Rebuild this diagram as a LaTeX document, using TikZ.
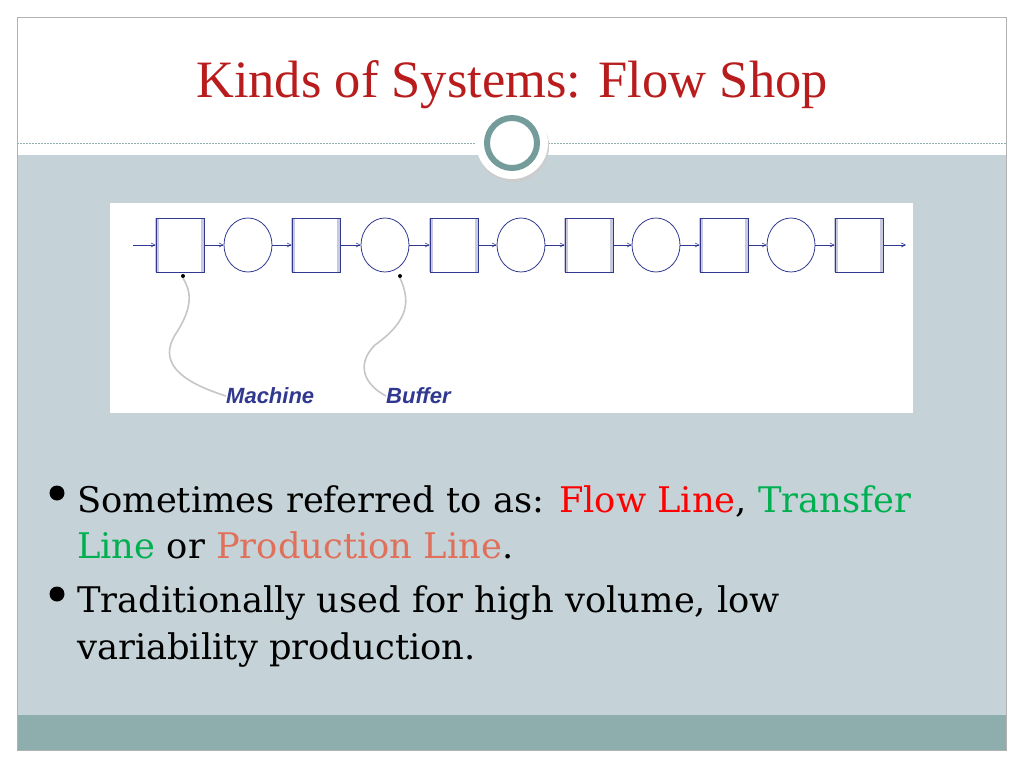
\documentclass[tikz,border=0pt]{standalone}
\usepackage{fontspec}
\setmainfont{DejaVu Serif}
\newfontfamily\titlefont{Liberation Serif}
\newfontfamily\labfont{Liberation Sans}
\usetikzlibrary{arrows.meta,shapes.geometric}
\definecolor{body}{HTML}{C5D3D8}
\definecolor{band}{HTML}{8DAEAD}
\definecolor{ring}{HTML}{739C9B}
\definecolor{ttl}{HTML}{B81C1C}
\definecolor{dblue}{HTML}{303890}
\definecolor{lav}{HTML}{C8C8E0}
\definecolor{prod}{HTML}{E0705A}
\definecolor{grn}{HTML}{00B050}
\begin{document}
\begin{tikzpicture}[x=1pt,y=-1pt,
  mach/.style={draw=dblue,line width=0.8pt,minimum width=48pt,minimum height=54pt,inner sep=0pt},
  buf/.style={draw=dblue,line width=0.8pt,ellipse,minimum width=48pt,minimum height=54pt,inner sep=0pt},
  flow/.style={draw=dblue,line width=0.6pt,-{Straight Barb[length=4pt,width=4pt]}},
  lead/.style={draw=gray!45,line width=1.6pt},
  lab/.style={font=\labfont\bfseries\itshape\fontsize{22}{22}\selectfont,text=dblue,inner sep=0pt},
  txt/.style={anchor=base west,inner sep=0pt,font=\fontsize{35.3}{35}\selectfont}]
\useasboundingbox (0,0) rectangle (1024,768);
\fill[white] (0,0) rectangle (1024,768);
\fill[body] (17,155) rectangle (1006,715);
\fill[band] (17,715) rectangle (1006,750);
\draw[gray!60,line width=0.6pt] (17,17) rectangle (1006,750);
\draw[ring!80,dashed,dash pattern=on 2pt off 1pt,line width=0.6pt] (17,143) -- (1006,143);
\fill[gray!40] (513,146) circle (36pt);
\node[circle,fill=white,minimum size=72pt,inner sep=0pt] (orn) at (512,143) {};
\node[circle,draw=ring,line width=6pt,fill=white,minimum size=50pt,inner sep=0pt] (ornr) at (512,143) {};
\node[font=\titlefont\fontsize{52.5}{52}\selectfont,text=ttl,anchor=base] (title) at (512,97) {Kinds of Systems: Flow Shop};
% diagram
\fill[white] (110,203) rectangle (913,413);
\coordinate (in) at (133,245);
\coordinate (out) at (906,245);
\foreach \i/\x in {1/180,2/316,3/454,4/589,5/724,6/859}{
  \fill[lav] (\x-25,218) rectangle (\x-21,272);
  \fill[lav] (\x+21,218) rectangle (\x+25,272);
  \node[mach] (m\i) at (\x,245) {};
}
\foreach \i/\x in {1/248,2/385,3/521,4/656,5/791}{
  \node[buf] (b\i) at (\x,245) {};
}
\draw[flow] (in) -- (m1.west);
\draw[flow] (m1) -- (b1); \draw[flow] (b1) -- (m2);
\draw[flow] (m2) -- (b2); \draw[flow] (b2) -- (m3);
\draw[flow] (m3) -- (b3); \draw[flow] (b3) -- (m4);
\draw[flow] (m4) -- (b4); \draw[flow] (b4) -- (m5);
\draw[flow] (m5) -- (b5); \draw[flow] (b5) -- (m6);
\draw[flow] (m6.east) -- (out);
\node[lab,anchor=west] (lm) at (226,396) {Machine};
\node[lab,anchor=west] (lb) at (386,396) {Buffer};
\draw[lead] (lm.west) .. controls (175,380) and (160,360) .. (175,335) .. controls (195,305) and (190,290) .. (183,278);
\draw[lead] (lb.west) .. controls (365,385) and (355,365) .. (375,345) .. controls (410,320) and (410,300) .. (400,278);
\fill[black] (183,276) circle (2pt);
\fill[black] (400,276) circle (2pt);
% text
\coordinate (d1) at (57,493);
\coordinate (d2) at (57,594);
\fill[black] (d1) circle [radius=7.5pt];
\fill[black] (d2) circle [radius=7.5pt];
\node[txt] (t1) at (77,512) {Sometimes referred to as: \textcolor{red}{Flow Line}, \textcolor{grn}{Transfer}};
\node[txt] (t2) at (77,558) {\textcolor{grn}{Line} or \textcolor{prod}{Production Line}.};
\node[txt] (t3) at (77,612) {Traditionally used for high volume, low};
\node[txt] (t4) at (77,659) {variability production.};
\end{tikzpicture}
\end{document}
